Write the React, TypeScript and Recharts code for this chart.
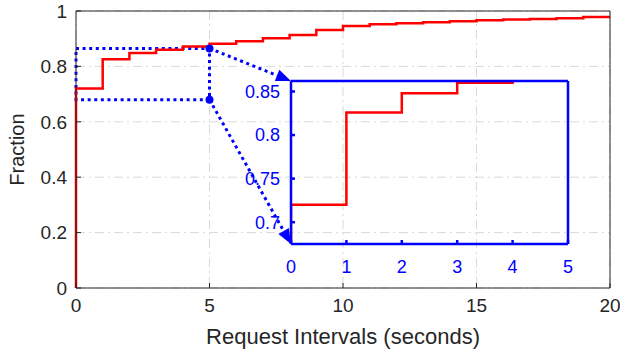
import React from 'react';
import { LineChart, Line, XAxis, YAxis, CartesianGrid, ReferenceArea, ReferenceDot, ReferenceLine } from 'recharts';

// CDF of request intervals (step function)
const intervals = [0, 0, 1, 2, 3, 4, 5, 6, 7, 8, 9, 10, 11, 12, 13, 14, 15, 16, 17, 18, 19, 20];
const fraction = [0, 0.72, 0.826, 0.848, 0.86, 0.872, 0.882, 0.891, 0.902, 0.913, 0.931, 0.946, 0.952, 0.956, 0.959, 0.963, 0.967, 0.969, 0.971, 0.974, 0.978, 0.978];

const xTicks = [0, 5, 10, 15, 20];
const yTicks = [0, 0.2, 0.4, 0.6, 0.8, 1];
const insetXTicks = [0, 1, 2, 3, 4, 5];
const insetYTicks = [0.7, 0.75, 0.8, 0.85];
const zoomX = [0, 5];
const zoomY = [0.68, 0.865];
const insetYDomain = [0.675, 0.862];

const data = intervals.map((x, i) => ({ x, y: fraction[i] }));

const W = 620;
const H = 354;
// main plot area
const MAIN = { left: 76, right: 610, top: 11, bottom: 288 };
// inset plot area
const INSET = { left: 291, right: 568, top: 81, bottom: 244 };

const BLUE = '#0000ff';
const AXIS = '#262626';
const FONT = '"Liberation Sans", Arial, sans-serif';

// convert an inset corner (pixels) to main-chart data units, so the arrow can be drawn by the main scales
const toMainX = (px: number) => ((px - MAIN.left) / (MAIN.right - MAIN.left)) * 20;
const toMainY = (py: number) => 1 - (py - MAIN.top) / (MAIN.bottom - MAIN.top);

const Arrow = (props: any) => {
  const { x1, y1, x2, y2 } = props;
  const len = 15;
  const half = 6;
  const dx = x2 - x1;
  const dy = y2 - y1;
  const d = Math.sqrt(dx * dx + dy * dy);
  const ux = dx / d;
  const uy = dy / d;
  const bx = x2 - ux * len;
  const by = y2 - uy * len;
  return (
    <g>
      <line x1={x1} y1={y1} x2={bx} y2={by} stroke={BLUE} strokeWidth={3} strokeDasharray="3 3.6" />
      <polygon
        points={`${x2},${y2} ${bx - uy * half},${by + ux * half} ${bx + uy * half},${by - ux * half}`}
        fill={BLUE}
      />
    </g>
  );
};

export default function App() {
  return (
    <div style={{ position: 'absolute', left: 0, top: 0, width: W, height: H, fontFamily: FONT, background: '#fff' }}>
      <div style={{ position: 'absolute', left: 0, top: 0 }}>
        <LineChart width={W} height={H} data={data} margin={{ top: MAIN.top - 1, right: W - MAIN.right - 1, left: 0, bottom: 0 }}>
          <CartesianGrid stroke="#d9d9d9" strokeDasharray="9 4 2 4" />
          <XAxis
            dataKey="x"
            type="number"
            domain={[0, 20]}
            ticks={xTicks}
            height={H - MAIN.bottom}
            tickSize={-5}
            tickMargin={16}
            stroke={AXIS}
            tick={{ fill: AXIS, fontSize: 19 }}
            label={{ value: 'Request Intervals (seconds)', position: 'insideBottom', offset: 10, fill: AXIS, fontSize: 22 }}
          />
          <XAxis xAxisId="top" orientation="top" dataKey="x" type="number" domain={[0, 20]} ticks={xTicks} height={1} tickSize={-5} tick={false} stroke={AXIS} />
          <YAxis
            type="number"
            domain={[0, 1]}
            ticks={yTicks}
            width={MAIN.left}
            tickSize={-5}
            tickMargin={14}
            stroke={AXIS}
            tick={{ fill: AXIS, fontSize: 19 }}
            label={{ value: 'Fraction', angle: -90, position: 'insideLeft', offset: 17, fill: AXIS, fontSize: 20, style: { textAnchor: 'middle' } }}
          />
          <YAxis yAxisId="right" orientation="right" type="number" domain={[0, 1]} ticks={yTicks} width={1} tickSize={-5} tick={false} stroke={AXIS} />
          <Line type="stepAfter" dataKey="y" stroke="#ff0000" strokeWidth={2.5} dot={false} isAnimationActive={false} />
          <ReferenceArea x1={zoomX[0]} x2={zoomX[1]} y1={zoomY[0]} y2={zoomY[1]} fill="none" fillOpacity={0} stroke={BLUE} strokeWidth={3} strokeDasharray="3 3.6" />
          <ReferenceLine segment={[{ x: zoomX[1], y: zoomY[1] }, { x: toMainX(INSET.left), y: toMainY(INSET.top) }]} shape={Arrow} />
          <ReferenceLine segment={[{ x: zoomX[1], y: zoomY[0] }, { x: toMainX(INSET.left), y: toMainY(INSET.bottom) }]} shape={Arrow} />
          <ReferenceDot x={zoomX[1]} y={zoomY[1]} r={4} fill={BLUE} stroke="none" />
          <ReferenceDot x={zoomX[1]} y={zoomY[0]} r={4} fill={BLUE} stroke="none" />
        </LineChart>
      </div>
      <div style={{ position: 'absolute', left: 0, top: 0 }}>
        <LineChart
          width={W}
          height={H}
          data={data}
          margin={{ top: INSET.top - 1, right: W - INSET.right - 1, left: INSET.left - 60, bottom: H - INSET.bottom - 30 }}
        >
          <XAxis
            dataKey="x"
            type="number"
            domain={[0, 5]}
            ticks={insetXTicks}
            allowDataOverflow
            height={30}
            tickSize={-4}
            tickMargin={20}
            stroke={BLUE}
            strokeWidth={2.5}
            tick={{ fill: BLUE, fontSize: 18 }}
          />
          <XAxis xAxisId="top" orientation="top" dataKey="x" type="number" domain={[0, 5]} ticks={insetXTicks} allowDataOverflow height={1} tickSize={-4} tick={false} stroke={BLUE} strokeWidth={2.5} />
          <YAxis
            type="number"
            domain={insetYDomain}
            ticks={insetYTicks}
            allowDataOverflow
            width={60}
            tickSize={-4}
            tickMargin={15}
            stroke={BLUE}
            strokeWidth={2.5}
            tick={{ fill: BLUE, fontSize: 18 }}
          />
          <YAxis yAxisId="right" orientation="right" type="number" domain={insetYDomain} ticks={insetYTicks} allowDataOverflow width={1} tickSize={-4} tick={false} stroke={BLUE} strokeWidth={2.5} />
          <Line type="stepAfter" dataKey="y" stroke="#ff0000" strokeWidth={2.5} dot={false} isAnimationActive={false} />
        </LineChart>
      </div>
    </div>
  );
}
